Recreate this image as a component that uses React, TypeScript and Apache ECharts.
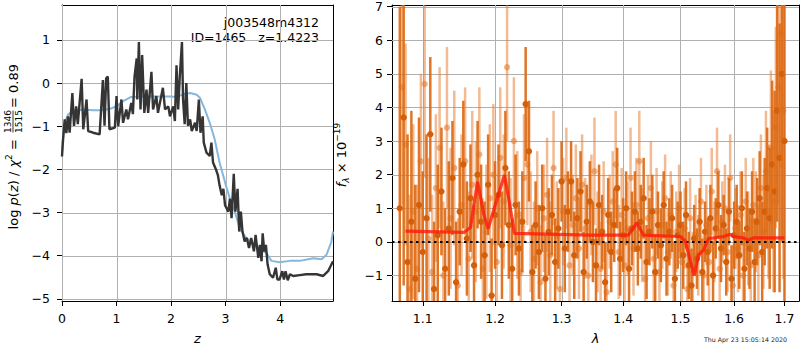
import React, { useEffect, useRef } from 'react';
import * as echarts from 'echarts';

// ---------- left panel: log p(z) ----------
const zBlack = [0, 0.02, 0.05, 0.08, 0.11, 0.14, 0.19, 0.22, 0.26, 0.29, 0.36, 0.39, 0.45, 0.48, 0.57, 0.69, 0.75, 0.78, 0.81, 0.84, 0.87, 0.97, 1.0, 1.03, 1.09, 1.12, 1.18, 1.21, 1.27, 1.3, 1.33, 1.37, 1.38, 1.41, 1.44, 1.47, 1.51, 1.55, 1.58, 1.64, 1.67, 1.73, 1.76, 1.85, 1.89, 1.95, 1.98, 2.04, 2.07, 2.1, 2.13, 2.16, 2.2, 2.22, 2.25, 2.28, 2.31, 2.35, 2.38, 2.44, 2.47, 2.51, 2.54, 2.58, 2.6, 2.65, 2.71, 2.74, 2.77, 2.82, 2.86, 2.89, 2.93, 2.96, 2.99, 3.05, 3.08, 3.11, 3.15, 3.18, 3.22, 3.25, 3.28, 3.31, 3.35, 3.39, 3.43, 3.47, 3.52, 3.55, 3.6, 3.63, 3.66, 3.68, 3.71, 3.74, 3.77, 3.81, 3.87, 3.92, 3.95, 3.99, 4.04, 4.07, 4.1, 4.14, 4.18, 4.24, 4.36, 4.48, 4.67, 4.79, 4.88, 4.97];
const logPzBlack = [-1.7, -1.3, -0.84, -1.16, -0.77, -1.15, -0.23, -0.99, -0.54, -0.95, 0.1, -1.07, -0.38, -1.11, -1.15, -1.19, 0.07, -0.99, 0.11, 0.15, -1.07, -1.03, -0.3, -1.0, -0.38, -0.92, -0.61, -0.84, -0.46, -0.72, 0.15, 0.57, -0.38, 0.95, -0.61, 0.65, -0.69, -0.15, -0.69, 0.26, -0.61, -0.3, -0.69, -0.11, -0.61, -0.54, -0.77, -0.54, -0.88, 0.41, -0.61, 0.15, 0.95, -0.38, -0.95, 0.0, -0.99, -0.84, -1.11, -0.92, -1.11, -0.38, -1.15, -0.77, -1.38, -1.61, -1.69, -1.38, -1.84, -1.99, -2.14, -2.37, -2.6, -2.45, -2.83, -2.98, -2.68, -3.13, -2.1, -2.98, -2.45, -3.44, -2.98, -3.44, -3.67, -3.59, -3.82, -3.59, -3.9, -3.52, -4.05, -3.75, -4.13, -3.48, -3.9, -3.75, -4.2, -4.43, -4.51, -4.28, -4.55, -4.55, -4.36, -4.55, -4.36, -4.57, -4.43, -4.47, -4.45, -4.43, -4.43, -4.47, -4.36, -4.13];

const zBlue = [0.0, 0.01, 0.05, 0.11, 0.2, 0.39, 0.57, 0.69, 0.87, 1.0, 1.12, 1.27, 1.49, 1.73, 1.98, 2.1, 2.25, 2.35, 2.47, 2.53, 2.62, 2.71, 2.8, 2.89, 2.99, 3.08, 3.17, 3.26, 3.38, 3.57, 3.75, 3.84, 3.99, 4.18, 4.36, 4.61, 4.76, 4.85, 4.94, 4.97];
const logPzBlue = [-1.6, -1.38, -0.92, -0.73, -0.65, -0.61, -0.63, -0.63, -0.6, -0.54, -0.42, -0.32, -0.31, -0.31, -0.31, -0.32, -0.25, -0.23, -0.27, -0.34, -0.61, -0.92, -1.3, -1.84, -2.3, -2.68, -2.98, -3.37, -3.59, -3.79, -3.94, -4.12, -4.15, -4.12, -4.12, -4.06, -4.08, -3.98, -3.68, -3.44];

const pzXTicks = [0, 1, 2, 3, 4];
const pzYTicks = [-5, -4, -3, -2, -1, 0, 1];

// ---------- right panel: spectrum ----------
const waveTicks = [1.1, 1.2, 1.3, 1.4, 1.5, 1.6, 1.7];
const fluxYTicks = [-1, 0, 1, 2, 3, 4, 5, 6, 7];

const waveA = [1.070, 1.075, 1.080, 1.085, 1.090, 1.095, 1.100, 1.105, 1.110, 1.115, 1.120, 1.125, 1.130, 1.135, 1.140, 1.145, 1.150, 1.155, 1.160, 1.165, 1.170, 1.175, 1.180, 1.185, 1.190, 1.195, 1.200, 1.205, 1.210, 1.215, 1.220, 1.225, 1.230, 1.235, 1.240, 1.245, 1.250, 1.255, 1.260, 1.265, 1.270, 1.275, 1.280, 1.285, 1.290, 1.295, 1.300, 1.305, 1.310, 1.315, 1.320, 1.325, 1.330, 1.335, 1.340, 1.345, 1.350, 1.355, 1.360, 1.365, 1.370, 1.375, 1.380, 1.385, 1.390, 1.395, 1.400, 1.405, 1.410, 1.415, 1.420, 1.425, 1.430, 1.435, 1.440, 1.445, 1.450, 1.455, 1.460, 1.465, 1.470, 1.475, 1.480, 1.485, 1.490, 1.495, 1.500, 1.505, 1.510, 1.515, 1.520, 1.525, 1.530, 1.535, 1.540, 1.545, 1.550, 1.555, 1.560, 1.565, 1.570, 1.575, 1.580, 1.585, 1.590, 1.595, 1.600, 1.605, 1.610, 1.615, 1.620, 1.625, 1.630, 1.635, 1.640, 1.645, 1.650, 1.655, 1.660, 1.665, 1.670, 1.675, 1.680, 1.685, 1.690, 1.695, 1.700];
const fluxA = [1.0, 3.7, -0.6, 0.6, -1.1, 1.1, -0.3, 0.7, 3.2, -1.4, 0.2, 1.5, -0.8, 0.4, 1.9, -1.2, 0.9, 2.3, 0.1, 1.3, -0.7, 2.0, 0.6, -0.4, 1.7, -1.6, 0.8, 1.4, -0.1, 2.2, 0.5, -0.8, 1.1, -0.2, 0.6, 4.1, 2.7, -0.9, 0.5, -0.3, 1.0, -1.1, 0.3, 0.8, -0.6, 0.4, 1.8, -0.2, 0.9, 1.8, -0.4, 0.7, 1.5, -0.9, 0.6, 1.2, 0.0, -0.7, 1.1, 0.3, -1.2, 0.8, -0.3, 0.5, 1.6, -0.5, 0.2, 1.0, -0.8, 0.4, 0.9, -0.2, 0.6, 1.3, -0.6, 0.3, 0.9, -0.9, 0.5, -0.1, 1.1, -0.5, 0.3, 0.7, -1.1, 0.2, 0.5, -0.4, 0.8, -0.7, -1.3, 0.1, -0.5, 0.6, -0.9, 0.3, -0.3, 0.7, -1.0, 0.4, 1.1, -0.2, 0.5, -0.6, 0.9, -1.1, 0.2, 0.6, -0.4, 1.0, -0.8, 0.4, -0.2, 0.9, -0.6, 0.6, 1.3, -0.3, 0.9, 1.6, 0.7, 2.3, 1.5, 3.9, 2.5, 5.0, 3.0];
const errA = [6.0, 5.0, 3.8, 3.3, 2.8, 2.6, 2.4, 2.5, 2.3, 2.0, 2.1, 1.9, 1.8, 2.0, 1.7, 1.8, 1.6, 1.9, 1.7, 1.6, 1.8, 1.6, 1.7, 1.6, 1.5, 1.7, 1.6, 1.5, 1.6, 1.7, 1.6, 1.5, 1.5, 1.4, 1.5, 1.7, 1.5, 1.4, 1.3, 1.4, 1.3, 1.3, 1.3, 1.2, 1.3, 1.2, 1.2, 1.3, 1.2, 1.2, 1.3, 1.2, 1.2, 1.2, 1.1, 1.2, 1.2, 1.1, 1.2, 1.1, 1.2, 1.1, 1.2, 1.1, 1.2, 1.1, 1.1, 1.1, 1.2, 1.1, 1.2, 1.1, 1.1, 1.2, 1.1, 1.0, 1.1, 1.1, 1.0, 1.1, 1.0, 1.1, 1.0, 1.0, 1.1, 1.0, 1.0, 1.0, 1.0, 1.0, 1.1, 1.0, 0.9, 1.0, 1.0, 0.9, 1.0, 1.0, 1.0, 0.9, 1.0, 1.0, 0.9, 1.0, 1.0, 1.0, 1.0, 1.1, 1.0, 1.1, 1.1, 1.1, 1.2, 1.2, 1.3, 1.3, 1.4, 1.5, 1.6, 1.8, 2.1, 2.5, 3.0, 3.3, 4.0, 5.0, 6.0];

const waveB = [1.0725, 1.0775, 1.0825, 1.0875, 1.0925, 1.0975, 1.1025, 1.1075, 1.1125, 1.1175, 1.1225, 1.1275, 1.1325, 1.1375, 1.1425, 1.1475, 1.1525, 1.1575, 1.1625, 1.1675, 1.1725, 1.1775, 1.1825, 1.1875, 1.1925, 1.1975, 1.2025, 1.2075, 1.2125, 1.2175, 1.2225, 1.2275, 1.2325, 1.2375, 1.2425, 1.2475, 1.2525, 1.2575, 1.2625, 1.2675, 1.2725, 1.2775, 1.2825, 1.2875, 1.2925, 1.2975, 1.3025, 1.3075, 1.3125, 1.3175, 1.3225, 1.3275, 1.3325, 1.3375, 1.3425, 1.3475, 1.3525, 1.3575, 1.3625, 1.3675, 1.3725, 1.3775, 1.3825, 1.3875, 1.3925, 1.3975, 1.4025, 1.4075, 1.4125, 1.4175, 1.4225, 1.4275, 1.4325, 1.4375, 1.4425, 1.4475, 1.4525, 1.4575, 1.4625, 1.4675, 1.4725, 1.4775, 1.4825, 1.4875, 1.4925, 1.4975, 1.5025, 1.5075, 1.5125, 1.5175, 1.5225, 1.5275, 1.5325, 1.5375, 1.5425, 1.5475, 1.5525, 1.5575, 1.5625, 1.5675, 1.5725, 1.5775, 1.5825, 1.5875, 1.5925, 1.5975, 1.6025, 1.6075, 1.6125, 1.6175, 1.6225, 1.6275, 1.6325, 1.6375, 1.6425, 1.6475, 1.6525, 1.6575, 1.6625, 1.6675, 1.6725, 1.6775, 1.6825, 1.6875, 1.6925, 1.6975];
const fluxB = [4.6, 2.9, -1.4, 0.9, -0.8, 2.4, 4.7, 0.1, -0.9, 1.6, 2.8, -1.0, 3.4, 0.7, 2.2, -1.3, 1.1, 2.4, -0.5, 1.7, 0.9, 2.6, -0.8, 0.3, 1.3, 2.0, -0.6, 2.5, 1.2, 5.2, -0.1, 3.0, 0.8, -0.9, 1.9, 2.3, 0.3, -0.5, 1.0, -1.2, 0.7, 1.4, -0.4, 2.2, 0.2, -1.4, 0.9, 1.9, -0.7, 0.5, 1.3, -0.2, 1.7, 0.4, -1.0, 1.1, 2.1, 0.0, -0.8, 0.9, -1.5, 0.6, 1.2, 2.3, -0.3, 0.8, -0.7, 0.4, 1.9, -0.2, 1.1, 2.4, 0.2, -1.1, 0.7, 1.6, -0.5, 0.9, -0.9, 0.5, 1.3, -0.3, 0.8, -1.3, 0.3, 1.0, -0.6, 0.4, -1.4, 0.7, -0.9, 0.2, -0.4, 1.2, -1.0, 0.5, -0.6, 1.5, 0.0, 2.1, -0.8, 0.6, 1.0, -0.3, 1.9, -1.3, 0.4, -0.2, 0.8, -1.0, 1.2, 0.1, -0.7, 1.1, 0.6, -0.4, 1.6, 0.3, 2.1, 0.9, 2.8, 1.2, 3.4, 4.6, 6.2, 3.9];
const errB = [3.5, 3.0, 2.8, 2.6, 2.5, 2.6, 2.8, 2.4, 2.3, 2.2, 2.4, 2.2, 2.4, 2.1, 2.3, 2.0, 2.1, 2.2, 2.0, 2.2, 2.1, 2.0, 2.1, 2.0, 2.2, 2.1, 2.0, 2.1, 2.0, 2.2, 2.0, 1.9, 1.9, 1.8, 1.9, 1.8, 1.8, 1.7, 1.7, 1.7, 1.6, 1.7, 1.6, 1.7, 1.6, 1.6, 1.6, 1.5, 1.6, 1.5, 1.6, 1.5, 1.5, 1.5, 1.5, 1.5, 1.6, 1.5, 1.4, 1.5, 1.5, 1.4, 1.5, 1.6, 1.4, 1.4, 1.4, 1.4, 1.5, 1.4, 1.4, 1.5, 1.4, 1.4, 1.3, 1.4, 1.3, 1.3, 1.4, 1.3, 1.3, 1.3, 1.3, 1.3, 1.2, 1.3, 1.2, 1.2, 1.3, 1.2, 1.2, 1.2, 1.2, 1.3, 1.2, 1.2, 1.2, 1.3, 1.2, 1.3, 1.2, 1.2, 1.3, 1.2, 1.3, 1.2, 1.2, 1.3, 1.3, 1.3, 1.3, 1.4, 1.4, 1.4, 1.5, 1.5, 1.6, 1.7, 1.8, 2.0, 2.3, 2.7, 3.0, 3.5, 4.0, 5.0];

const waveModel = [1.0774, 1.1556, 1.165, 1.175, 1.184, 1.19, 1.2005, 1.2136, 1.2214, 1.2283, 1.3454, 1.409, 1.4234, 1.4347, 1.5, 1.5087, 1.5178, 1.525, 1.533, 1.5423, 1.5516, 1.58, 1.5926, 1.598, 1.618, 1.628, 1.638, 1.7];
const fluxModel = [0.32, 0.28, 0.43, 1.79, 0.81, 0.39, 1.11, 1.99, 1.11, 0.25, 0.2, 0.2, 0.57, 0.2, 0.16, 0.02, -0.56, -1.0, -0.39, -0.24, 0.1, 0.16, 0.23, 0.16, 0.12, 0.05, 0.12, 0.12];

const FONT = 'DejaVu Sans';
const minus = (v: number | string) => String(v).replace('-', '\u2212');

function errRender(barColor: string, dotColor: string) {
  return (params: any, api: any) => {
    const x = api.value(0);
    const y = api.value(1);
    const e = api.value(2);
    const lo = api.coord([x, y - e]);
    const hi = api.coord([x, y + e]);
    const c = api.coord([x, y]);
    const cs = params.coordSys;
    return {
      type: 'group',
      clipPath: { type: 'rect', shape: { x: cs.x, y: cs.y, width: cs.width, height: cs.height } },
      children: [
        { type: 'line', shape: { x1: lo[0], y1: lo[1], x2: hi[0], y2: hi[1] }, style: { stroke: barColor, lineWidth: 2.5 } },
        { type: 'circle', shape: { cx: c[0], cy: c[1], r: 3.2 }, style: { fill: dotColor } },
      ],
    };
  };
}

// grid lines at the tick values: item = [xValue, yValue, kind] (kind 0 = vertical, 1 = horizontal)
function gridRender(params: any, api: any) {
  const cs = params.coordSys;
  const kind = api.value(2);
  const p = api.coord([api.value(0), api.value(1)]);
  const shape = kind === 0
    ? { x1: Math.round(p[0]) + 0.5, y1: cs.y, x2: Math.round(p[0]) + 0.5, y2: cs.y + cs.height }
    : { x1: cs.x, y1: Math.round(p[1]) + 0.5, x2: cs.x + cs.width, y2: Math.round(p[1]) + 0.5 };
  return { type: 'line', shape, style: { stroke: '#b0b0b0', lineWidth: 1 } };
}

export default function App() {
  const ref = useRef<HTMLDivElement>(null);
  useEffect(() => {
    const chart = echarts.init(ref.current!, null, { renderer: 'svg' });
    const lg = (v: number) => Math.log10(v);
    const axisText = { color: '#000', fontFamily: FONT, fontSize: 12.5 };
    const noSplit = { show: false };
    const axisLine = { show: true, onZero: false, lineStyle: { color: '#000', width: 1 } };
    const axisTick = { show: true, length: 5, lineStyle: { color: '#000', width: 1 } };
    const frameAxis = (gridIndex: number, position: string, min: number, max: number) => ({
      type: 'value', gridIndex, position, min, max,
      axisLine: { show: true, onZero: false, lineStyle: { color: '#000', width: 1 } },
      axisTick: { show: false }, axisLabel: { show: false }, splitLine: noSplit,
    });

    const option: any = {
      animation: false,
      backgroundColor: '#fff',
      textStyle: { fontFamily: FONT },
      grid: [
        { left: 62, top: 5, width: 271, height: 299, show: false, containLabel: false },
        { left: 392, top: 5, width: 407, height: 299, show: false, containLabel: false },
      ],
      xAxis: [
        {
          type: 'value', gridIndex: 0, min: 0, max: 4.97, position: 'bottom',
          axisLine, splitLine: noSplit,
          axisTick: { ...axisTick, customValues: pzXTicks },
          axisLabel: { ...axisText, margin: 11, customValues: pzXTicks },
          name: 'z', nameLocation: 'middle', nameGap: 31,
          nameTextStyle: { ...axisText, fontStyle: 'italic', fontSize: 13 },
        },
        {
          type: 'value', gridIndex: 1, min: lg(1.06), max: lg(1.73), position: 'bottom',
          axisLine, splitLine: noSplit,
          axisTick: { ...axisTick, customValues: waveTicks.map(lg) },
          axisLabel: { ...axisText, margin: 11, customValues: waveTicks.map(lg), formatter: (v: number) => Math.pow(10, v).toFixed(1) },
          name: 'λ', nameLocation: 'middle', nameGap: 31,
          nameTextStyle: { ...axisText, fontStyle: 'italic', fontSize: 13 },
        },
        frameAxis(0, 'top', 0, 4.97),
        frameAxis(1, 'top', lg(1.06), lg(1.73)),
      ],
      yAxis: [
        {
          type: 'value', gridIndex: 0, min: -5.05, max: 1.81, position: 'left',
          axisLine, splitLine: noSplit,
          axisTick: { ...axisTick, customValues: pzYTicks },
          axisLabel: { ...axisText, margin: 12, customValues: pzYTicks, formatter: (v: number) => minus(v) },
        },
        {
          type: 'value', gridIndex: 1, min: -1.76, max: 7.05, position: 'left',
          axisLine, splitLine: noSplit,
          axisTick: { ...axisTick, customValues: fluxYTicks },
          axisLabel: { ...axisText, margin: 9, customValues: fluxYTicks, formatter: (v: number) => minus(v) },
        },
        frameAxis(0, 'right', -5.05, 1.81),
        frameAxis(1, 'right', -1.76, 7.05),
      ],
      series: [
        {
          type: 'custom', xAxisIndex: 0, yAxisIndex: 0, z: 2, renderItem: gridRender,
          data: [...pzXTicks.map((v) => [v, 0, 0]), ...pzYTicks.map((v) => [0, v, 1])],
        },
        {
          type: 'custom', xAxisIndex: 1, yAxisIndex: 1, z: 2, renderItem: gridRender,
          data: [...waveTicks.map((v) => [lg(v), 0, 0]), ...fluxYTicks.map((v) => [lg(1.1), v, 1])],
        },
        {
          type: 'line', xAxisIndex: 0, yAxisIndex: 0, symbol: 'none', z: 3,
          data: zBlue.map((z, i) => [z, logPzBlue[i]]),
          lineStyle: { color: '#84b7dd', width: 2 },
        },
        {
          type: 'line', xAxisIndex: 0, yAxisIndex: 0, symbol: 'none', z: 4,
          data: zBlack.map((z, i) => [z, logPzBlack[i]]),
          lineStyle: { color: '#353535', width: 2.4 },
        },
        {
          type: 'custom', xAxisIndex: 1, yAxisIndex: 1, z: 2, clip: true,
          renderItem: errRender('rgba(230,120,40,0.5)', 'rgba(228,118,38,0.55)'),
          data: waveB.map((w, i) => [lg(w), fluxB[i], errB[i]]),
        },
        {
          type: 'custom', xAxisIndex: 1, yAxisIndex: 1, z: 3, clip: true,
          renderItem: errRender('rgba(221,106,22,0.93)', '#d35f0a'),
          data: waveA.map((w, i) => [lg(w), fluxA[i], errA[i]]),
        },
        {
          type: 'line', xAxisIndex: 1, yAxisIndex: 1, symbol: 'none', z: 5,
          data: waveModel.map((w, i) => [lg(w), fluxModel[i]]),
          lineStyle: { color: 'rgba(255,25,10,0.8)', width: 3.2 },
        },
        {
          type: 'line', xAxisIndex: 1, yAxisIndex: 1, symbol: 'none', z: 6, data: [],
          markLine: {
            silent: true, symbol: 'none', label: { show: false },
            lineStyle: { color: '#000', width: 2, type: [2.5, 3.5] },
            data: [{ yAxis: 0 }],
          },
        },
      ],
      graphic: [
        {
          type: 'text', x: 319, y: 22,
          style: { text: 'j003548m4312', align: 'right', verticalAlign: 'middle', fill: '#000', font: `12.5px "${FONT}"` },
        },
        {
          type: 'text', x: 319, y: 37,
          style: { text: 'ID=1465   z=1.4223', align: 'right', verticalAlign: 'middle', fill: '#000', font: `12.5px "${FONT}"` },
        },
        {
          type: 'group', x: 13, y: 154, rotation: Math.PI / 2,
          children: [
            {
              type: 'text', x: 19, y: 0,
              style: {
                text: '{a|log }{i|p}{a|(}{i|z}{a|) / }{i|χ}{s|2}{a| = }',
                align: 'right', verticalAlign: 'middle',
                rich: {
                  a: { fontFamily: FONT, fontSize: 13, fill: '#000', lineHeight: 18 },
                  i: { fontFamily: FONT, fontSize: 13, fontStyle: 'italic', fill: '#000', lineHeight: 18 },
                  s: { fontFamily: FONT, fontSize: 9, fill: '#000', lineHeight: 18, verticalAlign: 'top' },
                },
              },
            },
            { type: 'text', x: 32.5, y: -5.5, style: { text: '1346', align: 'center', verticalAlign: 'middle', fill: '#000', font: `9px "${FONT}"` } },
            { type: 'line', shape: { x1: 21.5, y1: 0, x2: 43.5, y2: 0 }, style: { stroke: '#000', lineWidth: 0.8 } },
            { type: 'text', x: 32.5, y: 5.5, style: { text: '1515', align: 'center', verticalAlign: 'middle', fill: '#000', font: `9px "${FONT}"` } },
            { type: 'text', x: 46, y: 0, style: { text: '= 0.89', align: 'left', verticalAlign: 'middle', fill: '#000', font: `13px "${FONT}"` } },
          ],
        },
        {
          type: 'group', x: 341, y: 155, rotation: Math.PI / 2,
          children: [
            {
              type: 'text', x: 0, y: 0,
              style: {
                text: '{i|f}{sub|λ}{a| × 10}{sup|−19}',
                align: 'center', verticalAlign: 'middle',
                rich: {
                  a: { fontFamily: FONT, fontSize: 13, fill: '#000', lineHeight: 18 },
                  i: { fontFamily: FONT, fontSize: 13, fontStyle: 'italic', fill: '#000', lineHeight: 18 },
                  sub: { fontFamily: FONT, fontSize: 9, fontStyle: 'italic', fill: '#000', lineHeight: 18, verticalAlign: 'bottom' },
                  sup: { fontFamily: FONT, fontSize: 9, fill: '#000', lineHeight: 18, verticalAlign: 'top' },
                },
              },
            },
          ],
        },
        {
          type: 'text', x: 787, y: 339,
          style: { text: 'Thu Apr 23 15:05:14 2020', align: 'right', verticalAlign: 'middle', fill: '#222', font: `6.3px "${FONT}"` },
        },
      ],
    };
    chart.setOption(option);
    return () => chart.dispose();
  }, []);
  return <div ref={ref} style={{ position: 'fixed', left: 0, top: 0, width: 800, height: 350, background: '#fff' }} />;
}
